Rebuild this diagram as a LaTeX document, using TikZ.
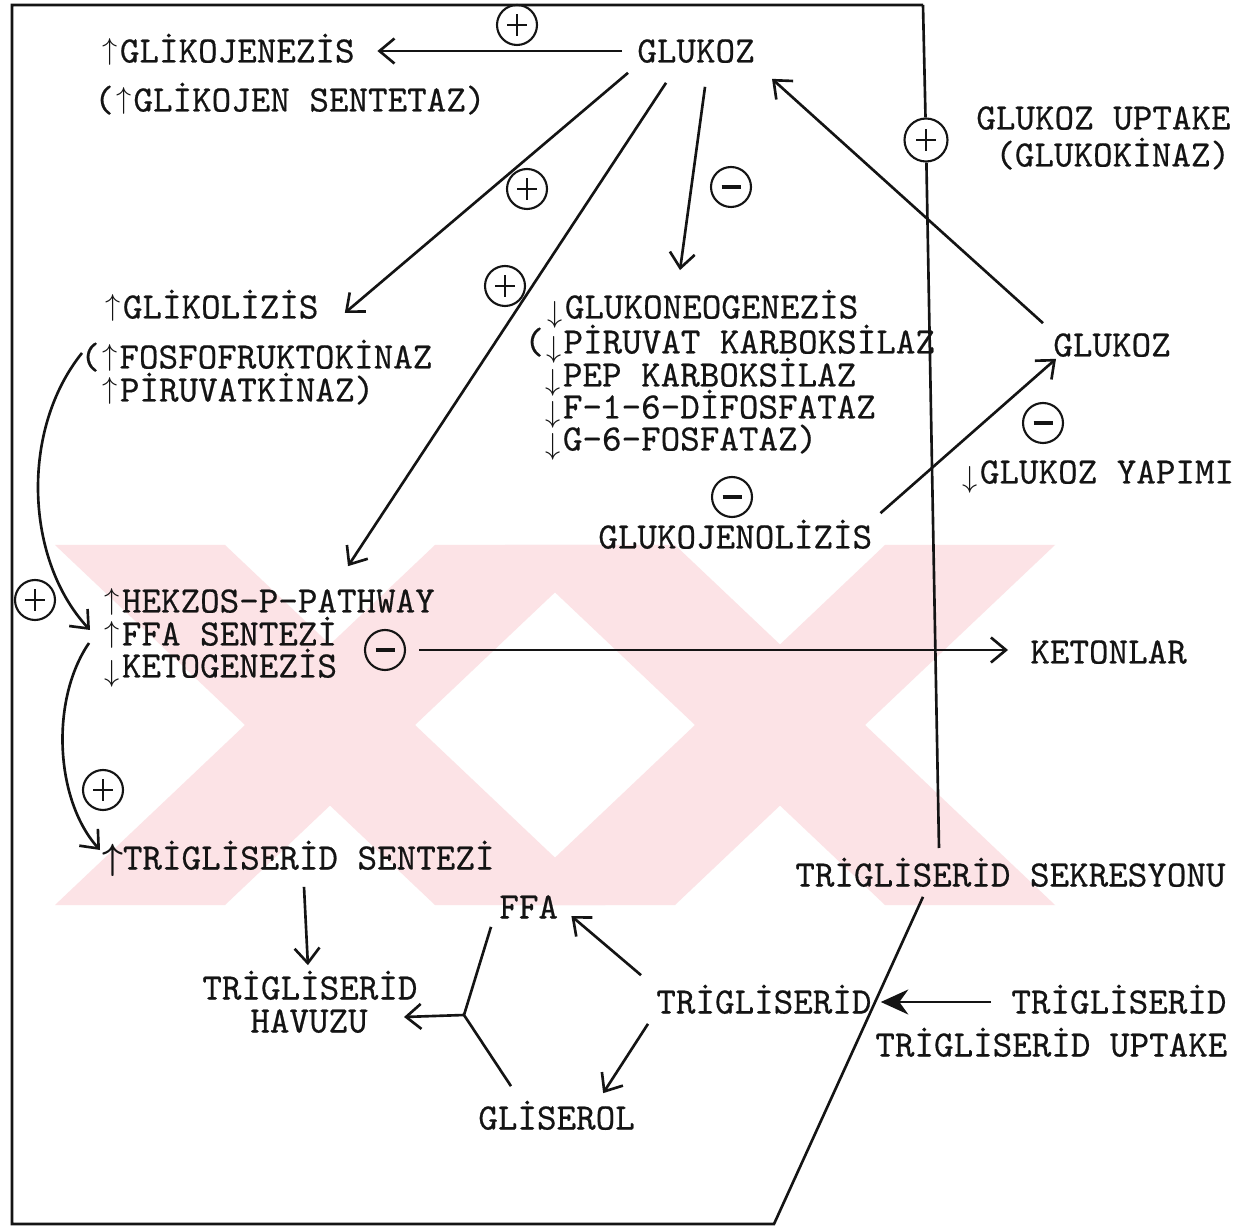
\documentclass[tikz,border=0pt]{standalone}
\usepackage{fontspec}
\usetikzlibrary{arrows.meta,calc}
\newfontfamily\twfont{lmmono10-regular.otf}[FakeBold=0.5]
\definecolor{wpink}{HTML}{fce3e6}
\definecolor{ink}{HTML}{141414}
\newcommand\uar{\makebox[0.525em]{\raisebox{0.08em}{\fontsize{18}{18}\selectfont$\uparrow$}}}
\newcommand\dar{\makebox[0.525em]{\raisebox{-0.12em}{\fontsize{18}{18}\selectfont$\downarrow$}}}
\newcommand\buar{\makebox[0.525em]{\boldmath$\uparrow$}}

\begin{document}
\begin{tikzpicture}[x=0.02cm,y=-0.02cm,
  lbl/.style={anchor=west,inner sep=0pt,text height=0.46cm,text depth=0pt,ink,
    font=\twfont\fontsize{21.2}{26}\selectfont},
  ln/.style={ink,line width=1.5pt},
  arr/.style={ln,-{Straight Barb[length=0.3cm,width=0.5cm]}},
  sgn/.style={circle,draw=ink,line width=1.2pt,minimum size=0.8cm,inner sep=0pt},
  signp/.style={sgn,path picture={\draw[ink,line width=1.2pt]
    (path picture bounding box.center) +(-0.2cm,0) -- +(0.2cm,0) +(0,-0.22cm) -- +(0,0.22cm);}},
  signm/.style={sgn,path picture={\draw[ink,line width=1.8pt]
    (path picture bounding box.center) +(-0.19cm,0) -- +(0.19cm,0);}}]
  \useasboundingbox (0,0) rectangle (1258,1229);
  \fill[white] (0,0) rectangle (1258,1229);

  % faint watermark behind the lower half
  \begin{scope}
    \clip (0,545) rectangle (1258,905);
    \foreach \xt/\xb in {140/520,520/140,590/970,970/590} {
      \fill[wpink] (\xt-85,545) -- (\xt+85,545) -- (\xb+85,905) -- (\xb-85,905) -- cycle;
    }
  \end{scope}

  % glucose and what it switches on or off
  \node[lbl] (glukoz) at (637,51) {GLUKOZ};
  \node[lbl] (glikojenez) at (100,51) {\uar GLİKOJENEZİS};
  \node[lbl] (glsentetaz) at (94,100) {(\uar GLİKOJEN SENTETAZ)};
  \node[lbl] (glikoliz) at (103,307) {\uar GLİKOLİZİS};
  \node[lbl] (fosfo) at (80,357) {(\uar FOSFOFRUKTOKİNAZ};
  \node[lbl] (piruvk) at (100,390) {\uar PİRUVATKİNAZ)};
  \node[lbl] (glukoneo) at (545,307) {\dar GLUKONEOGENEZİS};
  \node[lbl] (pkarb) at (524,342) {(\dar PİRUVAT KARBOKSİLAZ};
  \node[lbl] (pepk) at (543,375) {\dar PEP KARBOKSİLAZ};
  \node[lbl] (f16) at (543,407) {\dar F-1-6-DİFOSFATAZ};
  \node[lbl] (g6) at (543,439) {\dar G-6-FOSFATAZ)};

  % right side: uptake and production
  \node[lbl] (uptake) at (976,118) {GLUKOZ UPTAKE};
  \node[lbl] (kinaz) at (995,155) {(GLUKOKİNAZ)};
  \node[lbl] (glukozr) at (1053,345) {GLUKOZ};
  \node[lbl] (yapim) at (960,472) {\dar GLUKOZ YAPIMI};
  \node[lbl] (glukojen) at (598,537) {GLUKOJENOLİZİS};

  % fat side
  \node[lbl] (hekzos) at (102,601) {\uar HEKZOS-P-PATHWAY};
  \node[lbl] (ffasent) at (102,634) {\uar FFA SENTEZİ};
  \node[lbl] (keto) at (102,666) {\dar KETOGENEZİS};
  \node[lbl] (ketonlar) at (1030,652) {KETONLAR};
  \node[lbl] (tgsent) at (103,858) {\buar TRİGLİSERİD SENTEZİ};
  \node[lbl] (havuz1) at (202,988) {TRİGLİSERİD};
  \node[lbl] (havuz2) at (250,1021) {HAVUZU};
  \node[lbl] (ffa) at (499,907) {FFA};
  \node[lbl] (tgmid) at (656,1002) {TRİGLİSERİD};
  \node[lbl] (gliserol) at (478,1118) {GLİSEROL};
  \node[lbl] (sekr) at (795,875) {TRİGLİSERİD SEKRESYONU};
  \node[lbl] (tgright) at (1011,1002) {TRİGLİSERİD};
  \node[lbl] (tgupt) at (875,1045) {TRİGLİSERİD UPTAKE};

  % plus / minus marks
  \node[signp] (s1) at (517,25) {};
  \node[signp] (s2) at (527,189) {};
  \node[signp] (s3) at (505,286) {};
  \node[signm] (s4) at (731,187) {};
  \node[signp,minimum size=0.86cm] (s5) at (926,140) {};
  \node[signm] (s6) at (1043,423) {};
  \node[signm] (s7) at (732,497) {};
  \node[signp] (s8) at (35,600) {};
  \node[signm] (s9) at (385,650) {};
  \node[signp] (s10) at (103,790) {};

  % hand drawn frame
  \coordinate (vtop) at (923,5);
  \coordinate (vbot) at (939,848);
  \coordinate (btr) at (774,1224);
  \draw[ln] (vtop) -- (s5) -- (vbot);
  \draw[ln] ($(sekr.south west)+(128,10)$) -- (btr) -- (12,1224) -- (12,5) -- (vtop);

  % arrows from glucose
  \draw[arr] ([xshift=-0.3cm]glukoz.west) -- ([xshift=0.45cm]glikojenez.east);
  \draw[arr] ($(glukoz.south west)+(-9,10)$) -- ($(glikoliz.east)+(26,6)$);
  \draw[arr] ($(glukoz.south)+(-30,20)$) -- ($(hekzos.north west)+(246,-23)$);
  \draw[arr] ($(glukoz.south)+(9,24)$) -- ($(glukoneo.north west)+(135,-25)$);
  \draw[arr] ($(glukozr.north west)+(-10,-10)$) -- ($(glukoz.south east)+(17,16)$);
  \draw[arr] ($(glukojen.north east)+(8,-12)$) -- ($(glukozr.south west)+(3,2)$);

  % left bends
  \draw[arr] ($(fosfo.west)+(2,-4)$) .. controls (20,430) and (25,560) .. ($(ffasent.west)+(-12,-4)$);
  \draw[arr] ($(ffasent.west)+(-13,9)$) .. controls (50,700) and (55,800) .. ($(tgsent.west)+(-3,-8)$);

  % ketones
  \draw[arr] ($(s9.east)+(13,0)$) -- ($(ketonlar.west)+(-22,-2)$);

  % triglyceride pool
  \coordinate (fork) at (464,1015);
  \draw[arr] ($(tgsent.south west)+(201,17)$) -- ($(havuz1.north)+(-2,-11)$);
  \draw[ln] ($(ffa.south west)+(-8,8)$) -- (fork) -- ($(gliserol.north west)+(33,-20)$);
  \draw[arr] (fork) -- ($(havuz2.east)+(36,-4)$);
  \draw[arr] ($(tgmid.north west)+(-15,-15)$) -- ($(ffa.east)+(13,9)$);
  \draw[arr] ($(tgmid.south west)+(-8,10)$) -- ($(gliserol.north east)+(-32,-13)$);
  \draw[ln,-{Stealth[length=0.55cm,width=0.5cm]}] ([xshift=-0.4cm]tgright.west) -- ([xshift=0.18cm]tgmid.east);

\end{tikzpicture}
\end{document}
